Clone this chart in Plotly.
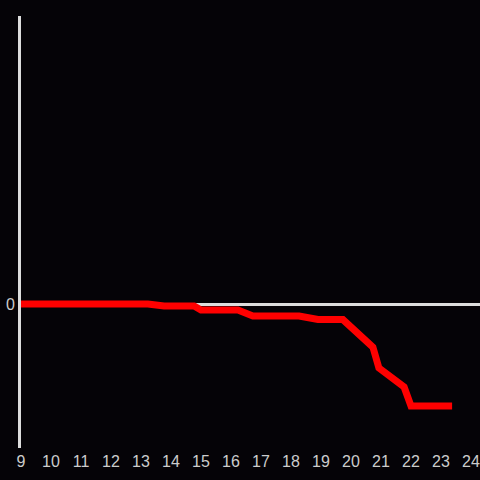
import plotly.graph_objects as go

hours = [9, 13.23, 13.77, 14.77, 15.0, 16.23, 16.73, 18.27, 18.9, 19.73, 20.73, 20.93, 21.77, 22.0, 23.37]
values = [0, 0, -0.014, -0.014, -0.042, -0.042, -0.083, -0.083, -0.108, -0.108, -0.299, -0.444, -0.576, -0.708, -0.708]
x_ticks = list(range(9, 25))

fig = go.Figure()
fig.add_trace(go.Scatter(x=hours, y=values, mode="lines",
                         line=dict(color="#ff0000", width=7), showlegend=False))

fig.update_layout(
    width=480, height=480,
    margin=dict(l=21, r=0, t=16, b=32),
    paper_bgcolor="#050307", plot_bgcolor="#050307",
    font=dict(family="Liberation Sans, Arial, sans-serif", size=16, color="#cccccc"),
    xaxis=dict(range=[9, 9 + 459 / 30], tickvals=x_ticks, showgrid=False,
               zeroline=False, showline=False, ticks="", ticklabelstandoff=2),
    yaxis=dict(range=[-1, 2], tickvals=[0], showgrid=False,
               zeroline=True, zerolinecolor="#dddddd", zerolinewidth=3,
               showline=True, linecolor="#dddddd", linewidth=3, ticks=""),
)
fig.write_html("out.html", config={"displayModeBar": False},
               post_script="document.body.style.margin='0';document.body.style.background='#050307';")
